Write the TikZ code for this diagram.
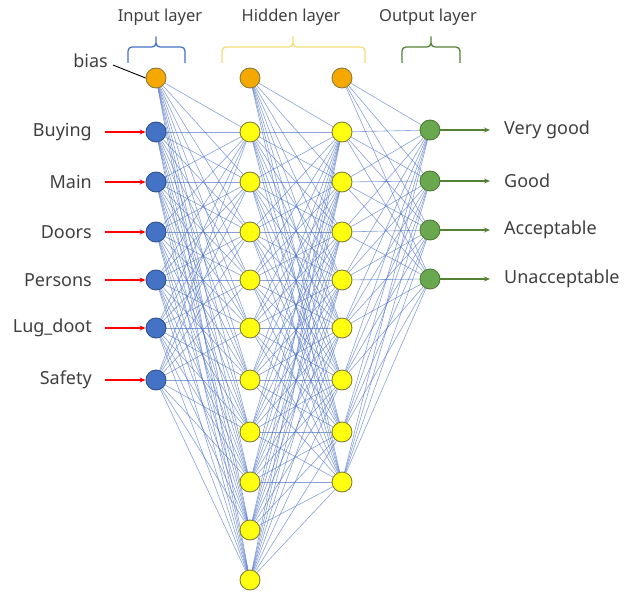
\documentclass[tikz,border=0pt]{standalone}
\usepackage{fontspec}
\setmainfont{Noto Sans}
\usetikzlibrary{arrows.meta,backgrounds}
\definecolor{inblue}{HTML}{4472C4}
\definecolor{inborder}{HTML}{2F528F}
\definecolor{biasfill}{HTML}{F5A800}
\definecolor{biasborder}{HTML}{8C7A3C}
\definecolor{hidfill}{HTML}{FFFF10}
\definecolor{hidborder}{HTML}{80803A}
\definecolor{outfill}{HTML}{6AA84F}
\definecolor{outborder}{HTML}{4E7A36}
\definecolor{greenarrow}{HTML}{548235}
\definecolor{hidbrace}{HTML}{F2DC7A}
\definecolor{edgeblue}{HTML}{4A6FC4}
\definecolor{textgray}{HTML}{404040}
\tikzset{
  neuron/.style={circle, minimum size=20pt, inner sep=0pt, line width=0.9pt},
  innode/.style={neuron, fill=inblue, draw=inborder},
  biasnode/.style={neuron, fill=biasfill, draw=biasborder},
  hidnode/.style={neuron, fill=hidfill, draw=hidborder},
  outnode/.style={neuron, fill=outfill, draw=outborder},
  conn/.style={draw=edgeblue, line width=0.6pt, opacity=0.65},
  inarrow/.style={draw=red, line width=1.4pt, -{Stealth[length=6pt,width=5pt]}},
  outarrow/.style={draw=greenarrow, line width=1.6pt, -{Stealth[length=6pt,width=5pt]}},
  lbl/.style={text=textgray, font=\fontsize{18}{21}\selectfont, inner sep=0pt},
  title/.style={text=textgray, font=\fontsize{16.5}{19}\selectfont, inner sep=0pt},
  bracestyle/.style={line width=1.3pt, rounded corners=4pt}
}
\begin{document}
\begin{tikzpicture}[x=1pt,y=-1pt]
\useasboundingbox (0,0) rectangle (634,594);
% input layer
\node[biasnode] (i0) at (156,78) {};
\foreach \k/\y in {1/132,2/182,3/232,4/280,5/328,6/380}{
  \node[innode] (i\k) at (156,\y) {};
}
% hidden layer 1
\node[biasnode] (h0) at (250,78) {};
\foreach \k/\y in {1/132,2/182,3/232,4/280,5/328,6/380,7/432,8/482,9/530,10/580}{
  \node[hidnode] (h\k) at (250,\y) {};
}
% hidden layer 2
\node[biasnode] (g0) at (342,78) {};
\foreach \k/\y in {1/132,2/182,3/232,4/280,5/328,6/380,7/432,8/482}{
  \node[hidnode] (g\k) at (342,\y) {};
}
% output layer
\foreach \k/\y in {1/130,2/181,3/230,4/279}{
  \node[outnode] (o\k) at (430,\y) {};
}
% connections
\begin{scope}[on background layer]
\foreach \a in {0,...,6}{
  \foreach \b in {1,...,10}{
    \draw[conn] (i\a) -- (h\b);
  }
}
\foreach \a in {0,...,10}{
  \foreach \b in {1,...,8}{
    \draw[conn] (h\a) -- (g\b);
  }
}
\foreach \a in {0,...,8}{
  \foreach \b in {1,...,4}{
    \draw[conn] (g\a) -- (o\b);
  }
}
\end{scope}
% input labels and arrows
\foreach \k/\t in {1/Buying,2/Main,3/Doors,4/Persons,5/Lug\_doot,6/Safety}{
  \coordinate (s\k) at (105,0 |- i\k);
  \node[lbl, anchor=east] (l\k) at (92,0 |- i\k) {\t};
  \draw[inarrow] (s\k) -- (i\k.west);
}
% output labels and arrows
\foreach \k/\t in {1/Very good,2/Good,3/Acceptable,4/Unacceptable}{
  \coordinate (e\k) at (490,0 |- o\k);
  \node[lbl, anchor=west] (r\k) at (504,0 |- o\k) {\t};
  \draw[outarrow] (o\k.east) -- (e\k);
}
% bias label
\node[lbl, anchor=east] (bl) at (108,61) {bias};
\coordinate (bs) at (113,65);
\draw[black, line width=0.9pt] (bs) -- (i0.west);
% titles
\node[title] (t1) at (160,17) {Input layer};
\node[title] (t2) at (291,17) {Hidden layer};
\node[title] (t3) at (428,17) {Output layer};
% braces
\draw[bracestyle, draw=inblue] (128,63) -- (128,47) -- (156,47) -- (156,34) -- (156,47) -- (185,47) -- (185,63);
\draw[bracestyle, draw=hidbrace] (222,63) -- (222,47) -- (293,47) -- (293,34) -- (293,47) -- (365,47) -- (365,63);
\draw[bracestyle, draw=greenarrow] (402,63) -- (402,47) -- (431,47) -- (431,34) -- (431,47) -- (460,47) -- (460,63);
\end{tikzpicture}
\end{document}
